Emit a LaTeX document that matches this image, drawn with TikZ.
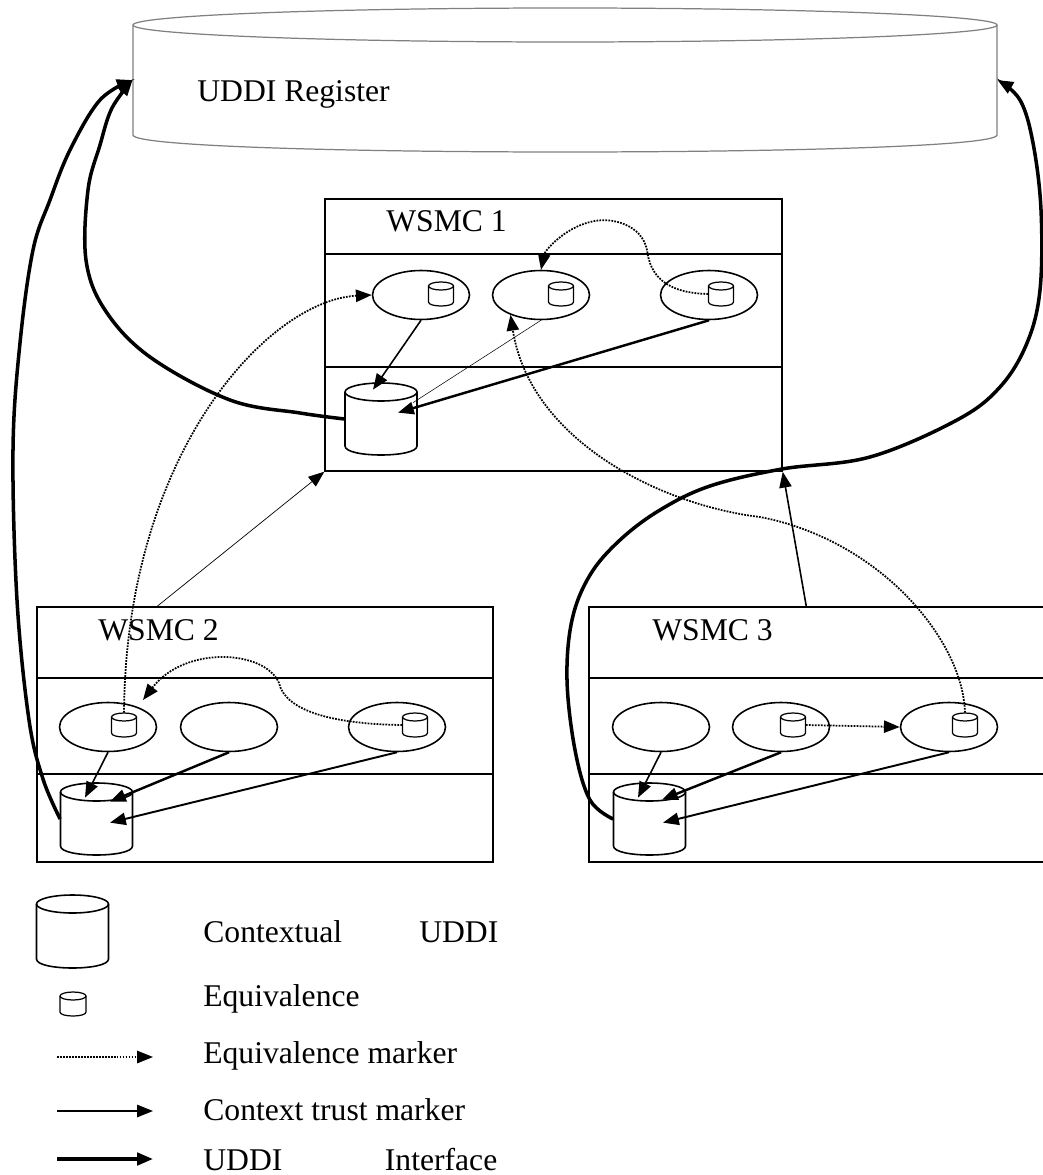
\documentclass[tikz,border=0pt]{standalone}
\usepackage{fontspec}
\setmainfont{Liberation Serif}
\usetikzlibrary{arrows.meta,shapes.geometric}

% drum: style, name, x, y, x radius, y radius of the lid, height
\def\dbdrum#1#2#3#4#5#6#7{
	\node[inner sep=0,minimum width={2*#5*0.02cm},minimum height={#7*0.02cm}] (#2) at (#3,#4) {};
	\draw[#1] (#3,{#4-#7/2+#6}) ellipse[x radius=#5,y radius=#6];
	\draw[#1] ({#3-#5},{#4-#7/2+#6}) -- ({#3-#5},{#4+#7/2-#6})
		.. controls ({#3-#5},{#4+#7/2+#6/3}) and ({#3+#5},{#4+#7/2+#6/3}) .. ({#3+#5},{#4+#7/2-#6})
		-- ({#3+#5},{#4-#7/2+#6});
}

\begin{document}
\begin{tikzpicture}[x=0.02cm,y=-0.02cm,>={Triangle[length=9pt,width=7pt]},
	font=\fontsize{18}{22}\selectfont,
	wsmc/.style={draw,line width=0.9pt,minimum height=5.1cm,inner sep=0},
	svc/.style={ellipse,draw,line width=0.9pt,minimum width=1.94cm,minimum height=0.98cm,inner sep=0},
	bigdb/.style={line width=0.9pt},
	eqdb/.style={line width=0.7pt},
	txt/.style={anchor=base west,inner sep=0},
	trust/.style={->,line width=0.9pt},
	heavy/.style={->,line width=1.4pt},
	equiv/.style={->,line width=1pt,dash pattern=on 1pt off 0.7pt},
	iface/.style={->,line width=2pt}]

\useasboundingbox (0,0) rectangle (1042,1175);

% register on top
\dbdrum{draw=gray,line width=0.7pt}{uddi}{565}{80}{432}{17}{144}
\node[txt] (reglabel) at (197,102) {UDDI Register};

% the three WSMC boxes
\node[wsmc,minimum width=9.14cm,minimum height=5.44cm] (w1) at (553.5,335) {};
\node[wsmc,minimum width=9.12cm] (w2) at (265,734.5) {};
\node[wsmc,minimum width=9.4cm] (w3) at (824,734.5) {};
\foreach \d in {56,169}
	\draw[line width=0.9pt] ([shift={(0,\d)}]w1.north west) -- ([shift={(0,\d)}]w1.north east);
\foreach \b in {w2,w3}{
	\foreach \d in {72,168}
		\draw[line width=0.9pt] ([shift={(0,\d)}]\b.north west) -- ([shift={(0,\d)}]\b.north east);
}
\node[txt] (l1) at (386,232) {WSMC 1};
\node[txt] (l2) at (98,640) {WSMC 2};
\node[txt] (l3) at (652,640) {WSMC 3};

% services
\foreach \n/\x in {1/421,2/541,3/709}
	\node[svc] (e1\n) at (\x,295) {};
\foreach \n/\x in {1/108,2/229,3/397}
	\node[svc] (e2\n) at (\x,727) {};
\foreach \n/\x in {1/661,2/781,3/949}
	\node[svc] (e3\n) at (\x,727) {};

% equivalences
\dbdrum{eqdb}{q11}{441}{294}{12.5}{4}{24}
\dbdrum{eqdb}{q12}{561}{294}{12.5}{4}{24}
\dbdrum{eqdb}{q13}{721}{294}{12.5}{4}{24}
\dbdrum{eqdb}{q21}{124}{725}{12.5}{4}{24}
\dbdrum{eqdb}{q23}{415}{725}{12.5}{4}{24}
\dbdrum{eqdb}{q32}{793}{725}{12.5}{4}{24}
\dbdrum{eqdb}{q33}{965}{725}{12.5}{4}{24}

% contextual UDDIs
\dbdrum{bigdb}{c1}{381}{419}{36}{9}{72}
\dbdrum{bigdb}{c2}{96.5}{819}{36}{9}{72}
\dbdrum{bigdb}{c3}{649.5}{819}{36}{9}{72}

% context trust
\draw[trust] (e11.south) -- ([shift={(-8,7)}]c1.north);
\draw[line width=0.3pt] (e12.south) -- ([shift={(32,20)}]c1.north);
\draw[heavy] (e13.south) -- ([shift={(17,30)}]c1.north);

\draw[trust] (e21.south) -- ([shift={(-11.5,15)}]c2.north);
\draw[heavy] (e22.south) -- ([shift={(13.5,19)}]c2.north);
\draw[trust,line width=1.1pt] (e23.south) -- ([shift={(13.5,40)}]c2.north);

\draw[trust] (e31.south) -- ([shift={(-11.5,15)}]c3.north);
\draw[heavy] (e32.south) -- ([shift={(12.5,17)}]c3.north);
\draw[trust,line width=1.1pt] (e33.south) -- ([shift={(13.5,40)}]c3.north);

\draw[->,line width=0.4pt] ([shift={(121,0)}]w2.north west) -- (w1.south west);
\draw[trust] ([shift={(218,0)}]w3.north west) -- (w1.south east);

% equivalence markers
\draw[equiv] (q13.west) .. controls (665,293) and (650,275) .. (647,250)
	.. controls (642,225) and (612,216) .. (590,222)
	.. controls (565,228) and (545,250) .. (e12.north);
\draw[equiv] (q21.north) .. controls (126,450) and (270,300) .. (e11.west);
\draw[equiv] (q33.north) .. controls (963,640) and (880,540) .. (760,517)
	.. controls (660,505) and (530,440) .. (e12.213);
\draw[equiv] (q32.east) -- (e33.west);
\draw[equiv] (q23.west) .. controls (330,724) and (285,710) .. (279,683)
	.. controls (265,650) and (185,645) .. ([shift={(35,-27)}]e21.center);

% UDDI interfaces
\draw[iface] plot[smooth,tension=0.6] coordinates {(c1.west) (300,413) (230,400) (150,357)
	(105,310) (86,260) (88,190) (100,145) (112,108) (uddi.west)};
\draw[iface] plot[smooth,tension=0.6] coordinates {(c2.west) (43,779) (29,720) (17,600)
	(13,450) (20,343) (33,250) (50,200) (70,150) (100,100) (uddi.west)};
\draw[iface] plot[smooth,tension=0.6] coordinates {(c3.west) (590,800) (575,750) (567,680)
	(572,620) (590,575) (620,540) (660,510) (710,486) (782,469) (870,457)
	(957,420) (1000,387) (1027,343) (1040,290) (1041,210) (1033,143) (1020,100) (uddi.east)};

% legend
\dbdrum{bigdb}{lgdb}{72.5}{931.5}{36}{9}{73}
\node[txt] (lt1) at (203,942) {\makebox[5.9cm][l]{Contextual\hfill UDDI}};
\dbdrum{eqdb}{lgeq}{73}{1004}{13}{4}{24}
\node[txt] (lt2) at (203,1006) {Equivalence};
\coordinate (m1) at (57,1057);
\coordinate (m1e) at (153,1057);
\draw[equiv] (m1) -- (m1e);
\node[txt] (lt3) at (203,1063) {Equivalence marker};
\coordinate (m2) at (57,1111);
\coordinate (m2e) at (153,1111);
\draw[trust] (m2) -- (m2e);
\node[txt] (lt4) at (203,1120) {Context trust marker};
\coordinate (m3) at (57,1159);
\coordinate (m3e) at (153,1159);
\draw[iface] (m3) -- (m3e);
\node[txt] (lt5) at (203,1170) {\makebox[5.88cm][l]{UDDI\hfill Interface}};

\end{tikzpicture}
\end{document}
